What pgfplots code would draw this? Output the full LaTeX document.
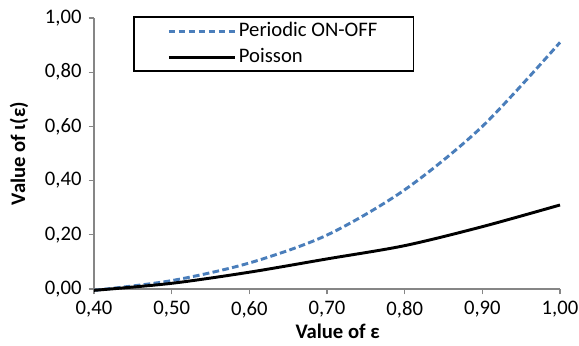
\documentclass[border=0pt]{standalone}
\usepackage{fontspec}
\setmainfont{Carlito}
\usepackage{pgfplots}
\pgfplotsset{compat=1.18}
\definecolor{exblue}{HTML}{4A7EBB}
\definecolor{axgray}{HTML}{868686}
\begin{document}
\fontsize{15.5}{18}\selectfont
\begin{tikzpicture}
\begin{axis}[
  name=ax,
  scale only axis,
  width=349.5pt, height=203.25pt,
  xmin=0.4, xmax=1.0, ymin=0, ymax=1.0,
  axis lines=left,
  axis line style={axgray, line width=1.2pt, -},
  xtick={0.4,0.5,0.6,0.7,0.8,0.9,1.0},
  ytick={0,0.2,0.4,0.6,0.8,1.0},
  tick align=outside,
  major tick length=4pt,
  tick style={axgray, line width=1pt},
  xticklabel style={/pgf/number format/.cd, fixed, fixed zerofill, precision=2, use comma, assume math mode=true},
  yticklabel style={/pgf/number format/.cd, fixed, fixed zerofill, precision=2, use comma, assume math mode=true},
  ticklabel style={font=\fontsize{15.5}{18}\selectfont},
  xlabel={\textbf{Value of ε}},
  ylabel={\textbf{Value of ι(ε)}},
  label style={font=\fontsize{15.5}{18}\selectfont},
  xlabel style={yshift=6pt, xshift=8pt},
  ylabel style={yshift=2pt},
  clip=false,
  legend style={at={(rel axis cs:0.084,1.006)}, anchor=north west, draw=black, line width=1.3pt,
    font=\fontsize{15.5}{18}\selectfont, inner xsep=25pt, inner ysep=2pt, row sep=2.5pt,
    cells={anchor=west}},
  legend image code/.code={\draw[#1] (0pt,0pt) -- (49.5pt,0pt);},
]
\addplot[exblue, line width=2.2pt, dash pattern=on 5pt off 2.5pt, smooth] coordinates {
 (0.4,-0.005) (0.5,0.031) (0.6,0.096) (0.7,0.199) (0.8,0.366) (0.9,0.60) (1.0,0.91)};
\addlegendentry{Periodic ON-OFF}
\addplot[black, line width=2.2pt, smooth] coordinates {
 (0.4,-0.005) (0.5,0.021) (0.6,0.062) (0.7,0.111) (0.8,0.160) (0.9,0.23) (1.0,0.31)};
\addlegendentry{Poisson}
\end{axis}
\pgfresetboundingbox
\path ([xshift=-70.5pt,yshift=-42pt]ax.south west) rectangle ([xshift=14.25pt,yshift=13.5pt]ax.north east);
\end{tikzpicture}
\end{document}
